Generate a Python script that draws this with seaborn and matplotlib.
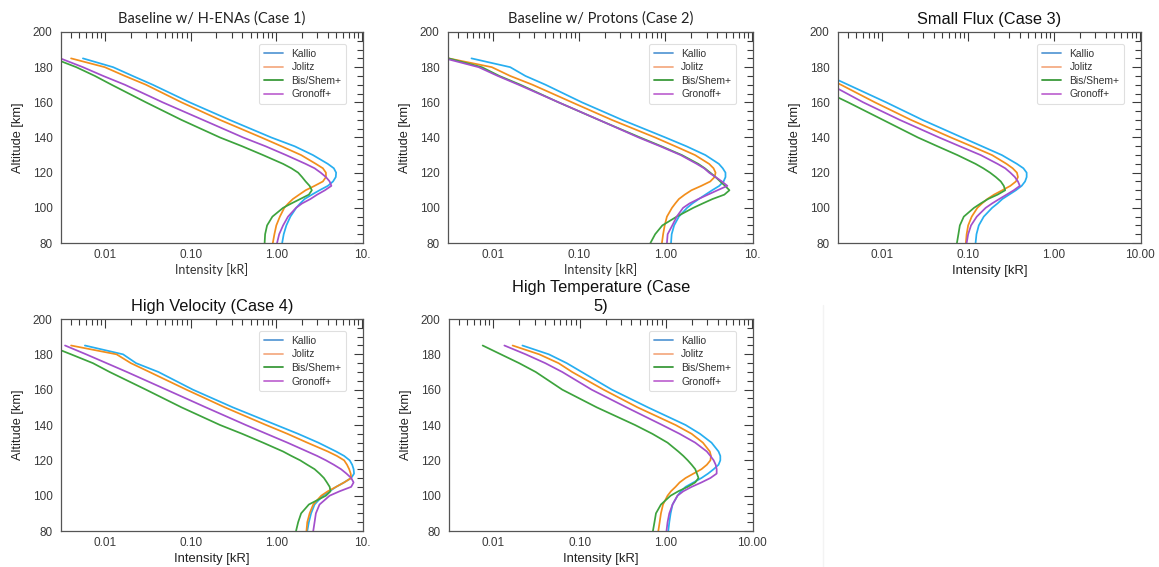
import numpy as np
import pandas as pd
import matplotlib
matplotlib.use("Agg")
import matplotlib.pyplot as plt
import seaborn as sns
from matplotlib.lines import Line2D
from matplotlib.ticker import FixedLocator, FixedFormatter, LogLocator, NullFormatter, MultipleLocator

sns.set_theme(style="white")
plt.rcParams['font.family'] = ['Liberation Sans', 'DejaVu Sans']

# ---------------- data ----------------
ALT = [80, 85, 90, 95, 100, 102.5, 105, 107.5, 110, 112.5, 115, 117.5, 120, 122.5,
       125, 130, 135, 140, 150, 160, 170, 175, 180, 185]
MODELS = ["Kallio", "Jolitz", "Bis/Shem+", "Gronoff+"]

TITLES = ["Baseline w/ H-ENAs (Case 1)", "Baseline w/ Protons (Case 2)", "Small Flux (Case 3)",
          "High Velocity (Case 4)", "High Temperature (Case\n5)"]

# Case 1
c1_kallio = [1.17, 1.22, 1.31, 1.46, 1.71, 1.9, 2.14, 2.6, 3.2, 4.0, 4.6, 4.95, 5.0, 4.7,
             4.0, 2.68, 1.64, 0.875, 0.285, 0.097, 0.036, 0.021, 0.0124, 0.0055]
c1_jolitz = [0.91, 0.95, 1.0, 1.1, 1.24, 1.38, 1.56, 1.85, 2.2, 2.8, 3.5, 3.8, 3.8, 3.5,
             2.9, 1.95, 1.15, 0.67, 0.22, 0.078, 0.030, 0.017, 0.0099, 0.0040]
c1_bis = [0.73, 0.74, 0.78, 0.9, 1.2, 1.5, 1.9, 2.4, 2.6, 2.45, 2.2, 2.0, 1.8, 1.5,
          1.2, 0.70, 0.40, 0.22, 0.078, 0.030, 0.0119, 0.0076, 0.0046, 0.0025]
c1_gronoff = [1.02, 1.08, 1.2, 1.37, 1.7, 2.0, 2.5, 3.0, 3.7, 4.4, 4.2, 3.8, 3.3, 2.8,
              2.2, 1.3, 0.75, 0.41, 0.139, 0.047, 0.017, 0.0095, 0.0055, 0.0030]
# Case 2
c2_kallio = [1.16, 1.18, 1.26, 1.43, 1.78, 2.05, 2.43, 2.9, 3.47, 4.2, 4.7, 4.95, 4.95, 4.6,
             4.15, 2.9, 1.75, 1.0, 0.316, 0.108, 0.041, 0.024, 0.016, 0.0057]
c2_jolitz = [0.91, 0.94, 0.98, 1.04, 1.19, 1.3, 1.43, 1.67, 2.0, 2.6, 3.3, 3.7, 3.8, 3.6,
             3.2, 2.2, 1.3, 0.76, 0.24, 0.083, 0.029, 0.016, 0.0098, 0.0031]
c2_bis = [0.67, 0.76, 0.92, 1.35, 2.1, 2.7, 3.5, 4.8, 5.5, 4.9, 4.3, 3.8, 3.3, 2.85,
          2.4, 1.55, 0.9, 0.51, 0.17, 0.058, 0.021, 0.012, 0.0075, 0.0031]
c2_gronoff = [1.04, 1.06, 1.2, 1.35, 1.6, 1.9, 2.4, 3.1, 4.0, 5.2, 4.5, 3.8, 3.2, 2.8,
              2.3, 1.5, 0.87, 0.49, 0.17, 0.058, 0.020, 0.0115, 0.0069, 0.0028]
# Case 3
c3_kallio = [0.122, 0.125, 0.133, 0.152, 0.19, 0.22, 0.25, 0.3, 0.36, 0.42, 0.46, 0.48, 0.48, 0.44,
             0.37, 0.247, 0.145, 0.085, 0.0294, 0.0111, 0.0040, 0.0024, 0.0015, 0.0009]
c3_jolitz = [0.094, 0.096, 0.1, 0.11, 0.128, 0.145, 0.167, 0.2, 0.25, 0.31, 0.36, 0.38, 0.37, 0.33,
             0.28, 0.19, 0.11, 0.063, 0.0216, 0.0082, 0.0033, 0.002, 0.0012, 0.0007]
c3_bis = [0.074, 0.077, 0.08, 0.089, 0.117, 0.14, 0.17, 0.22, 0.27, 0.26, 0.24, 0.21, 0.18, 0.15,
          0.122, 0.075, 0.044, 0.026, 0.0102, 0.004, 0.0015, 0.0009, 0.0006, 0.0004]
c3_gronoff = [0.096, 0.1, 0.108, 0.126, 0.16, 0.19, 0.23, 0.28, 0.34, 0.40, 0.38, 0.35, 0.31, 0.27,
              0.22, 0.14, 0.08, 0.046, 0.016, 0.006, 0.0025, 0.0015, 0.0009, 0.0005]
# Case 4
c4_kallio = [2.3, 2.4, 2.55, 2.8, 3.5, 4.2, 5.0, 6.2, 7.5, 8.1, 8.0, 7.7, 7.2, 6.2,
             5.0, 3.1, 1.8, 1.0, 0.31, 0.106, 0.042, 0.023, 0.0162, 0.0058]
c4_jolitz = [2.25, 2.3, 2.45, 2.7, 3.35, 4.0, 5.0, 6.2, 7.5, 7.4, 7.1, 6.7, 6.2, 5.1,
             4.0, 2.3, 1.35, 0.76, 0.25, 0.089, 0.033, 0.020, 0.0136, 0.0040]
c4_bis = [1.7, 1.8, 1.95, 2.4, 3.8, 4.3, 4.2, 3.9, 3.6, 3.2, 2.8, 2.3, 1.9, 1.5,
          1.2, 0.7, 0.4, 0.22, 0.078, 0.030, 0.0113, 0.0072, 0.004, 0.0022]
c4_gronoff = [2.7, 2.8, 2.9, 3.2, 4.2, 5.5, 7.5, 8.0, 7.5, 6.6, 5.7, 4.7, 3.8, 3.0,
              2.3, 1.35, 0.77, 0.44, 0.15, 0.052, 0.018, 0.0104, 0.006, 0.0034]
# Case 5
c5_kallio = [1.07, 1.1, 1.14, 1.2, 1.37, 1.5, 1.7, 2.1, 2.6, 3.1, 3.6, 4.1, 4.3, 4.3,
             4.1, 3.4, 2.5, 1.7, 0.62, 0.237, 0.106, 0.071, 0.044, 0.0217]
c5_jolitz = [0.82, 0.85, 0.88, 0.93, 1.05, 1.15, 1.3, 1.45, 1.7, 2.1, 2.6, 3.0, 3.3, 3.35,
             3.25, 2.7, 2.0, 1.3, 0.47, 0.19, 0.082, 0.057, 0.034, 0.0167]
c5_bis = [0.71, 0.74, 0.77, 0.88, 1.14, 1.4, 1.8, 2.2, 2.4, 2.3, 2.2, 2.0, 1.8, 1.6,
          1.4, 1.05, 0.7, 0.44, 0.158, 0.063, 0.031, 0.0199, 0.0122, 0.0075]
c5_gronoff = [1.02, 1.05, 1.1, 1.2, 1.37, 1.6, 2.0, 2.6, 3.3, 3.9, 3.9, 3.8, 3.6, 3.3,
              3.0, 2.2, 1.45, 0.91, 0.35, 0.138, 0.063, 0.04, 0.0237, 0.0134]

CASES = [
    [c1_kallio, c1_jolitz, c1_bis, c1_gronoff],
    [c2_kallio, c2_jolitz, c2_bis, c2_gronoff],
    [c3_kallio, c3_jolitz, c3_bis, c3_gronoff],
    [c4_kallio, c4_jolitz, c4_bis, c4_gronoff],
    [c5_kallio, c5_jolitz, c5_bis, c5_gronoff],
]

XTICKS = [0.01, 0.1, 1, 10]
XTICKLABELS_FULL = ["0.01", "0.10", "1.00", "10.00"]
XTICKLABELS_CUT = ["0.01", "0.10", "1.00", "10."]

# ---------------- styles ----------------
LINE_COLORS = {"Kallio": "#27aef0", "Jolitz": "#f28e1c", "Bis/Shem+": "#3da33d", "Gronoff+": "#a34fcc"}
LEGEND_COLORS = {"Kallio": "#5b9bd5", "Jolitz": "#f4ad85", "Bis/Shem+": "#3a9a3a", "Gronoff+": "#c06ad2"}

W, H = 1159, 567
fig = plt.figure(figsize=(W / 100, H / 100), dpi=100)

# axes boxes in pixels: left, top, right, bottom
BOXES = [(61, 32, 363, 243), (448, 32, 753, 243), (838, 32, 1141, 243),
         (61, 319, 363, 531), (449, 319, 753, 531)]
CALIBRI_TITLE = [True, True, False, False, False]
CALIBRI_XLABEL = [True, True, False, False, False]
CUT_LABELS = [True, True, False, True, False]

for i, (box, case) in enumerate(zip(BOXES, CASES)):
    l, t, r, b = box
    ax = fig.add_axes([l / W, 1 - b / H, (r - l) / W, (b - t) / H])
    frames = []
    for m, vals in zip(MODELS, case):
        frames.append(pd.DataFrame({"alt": ALT, "I": vals, "model": m}))
    df = pd.concat(frames, ignore_index=True)
    sns.lineplot(data=df, x="I", y="alt", hue="model", palette=LINE_COLORS,
                 hue_order=MODELS, orient="y", estimator=None, sort=True,
                 legend=False, linewidth=1.25, ax=ax, solid_joinstyle="round")
    ax.set_xscale("log")
    ax.set_xlim(0.00305, 10.3)
    ax.set_ylim(80, 200)
    ax.xaxis.set_major_locator(FixedLocator(XTICKS))
    ax.xaxis.set_major_formatter(FixedFormatter(XTICKLABELS_CUT if CUT_LABELS[i] else XTICKLABELS_FULL))
    ax.xaxis.set_minor_locator(LogLocator(base=10, subs=np.arange(2, 10)))
    ax.xaxis.set_minor_formatter(NullFormatter())
    ax.yaxis.set_major_locator(MultipleLocator(20))
    ax.yaxis.set_minor_locator(MultipleLocator(5))
    ax.tick_params(which="both", direction="in", top=True, right=True, colors="#3a3a3a",
                   labelsize=8.5, width=0.8)
    ax.tick_params(axis="y", pad=6)
    ax.tick_params(axis="x", pad=4)
    ax.tick_params(which="major", length=6.5)
    ax.tick_params(which="minor", length=4)
    for s in ax.spines.values():
        s.set_color("#555555")
        s.set_linewidth(0.9)
    ax.set_ylabel("Altitude [km]", fontsize=9.2, color="#222222", labelpad=6)
    if CALIBRI_XLABEL[i]:
        ax.set_xlabel("Intensity [kR]", fontsize=9, family=["Lato", "DejaVu Sans"], color="#333333", labelpad=2)
    else:
        ax.set_xlabel("Intensity [kR]", fontsize=9.4, color="#222222", labelpad=3)
    if CALIBRI_TITLE[i]:
        ax.set_title(TITLES[i], fontsize=10.5, family=["Lato", "DejaVu Sans"], color="#222222", pad=7)
    else:
        ax.set_title(TITLES[i], fontsize=11.8, color="#111111", pad=6, linespacing=1.3)

    handles = [Line2D([0], [0], color=LEGEND_COLORS[m], lw=1.3) for m in MODELS]
    leg = ax.legend(handles, MODELS, loc="upper right", bbox_to_anchor=(0.944, 0.943),
                    borderaxespad=0, fontsize=7.4, frameon=True, handlelength=1.9,
                    handletextpad=0.8, borderpad=0.45, labelspacing=0.35, fancybox=True)
    leg.get_frame().set_edgecolor("#d8d8d8")
    leg.get_frame().set_linewidth(0.8)
    for txt in leg.get_texts():
        txt.set_color("#333333")

# faint vertical separator
fig.add_artist(Line2D([823 / W, 823 / W], [0, 1 - 305 / H], color="#f3f3f3", lw=1))

fig.savefig("out.png", dpi=100, facecolor="white")
